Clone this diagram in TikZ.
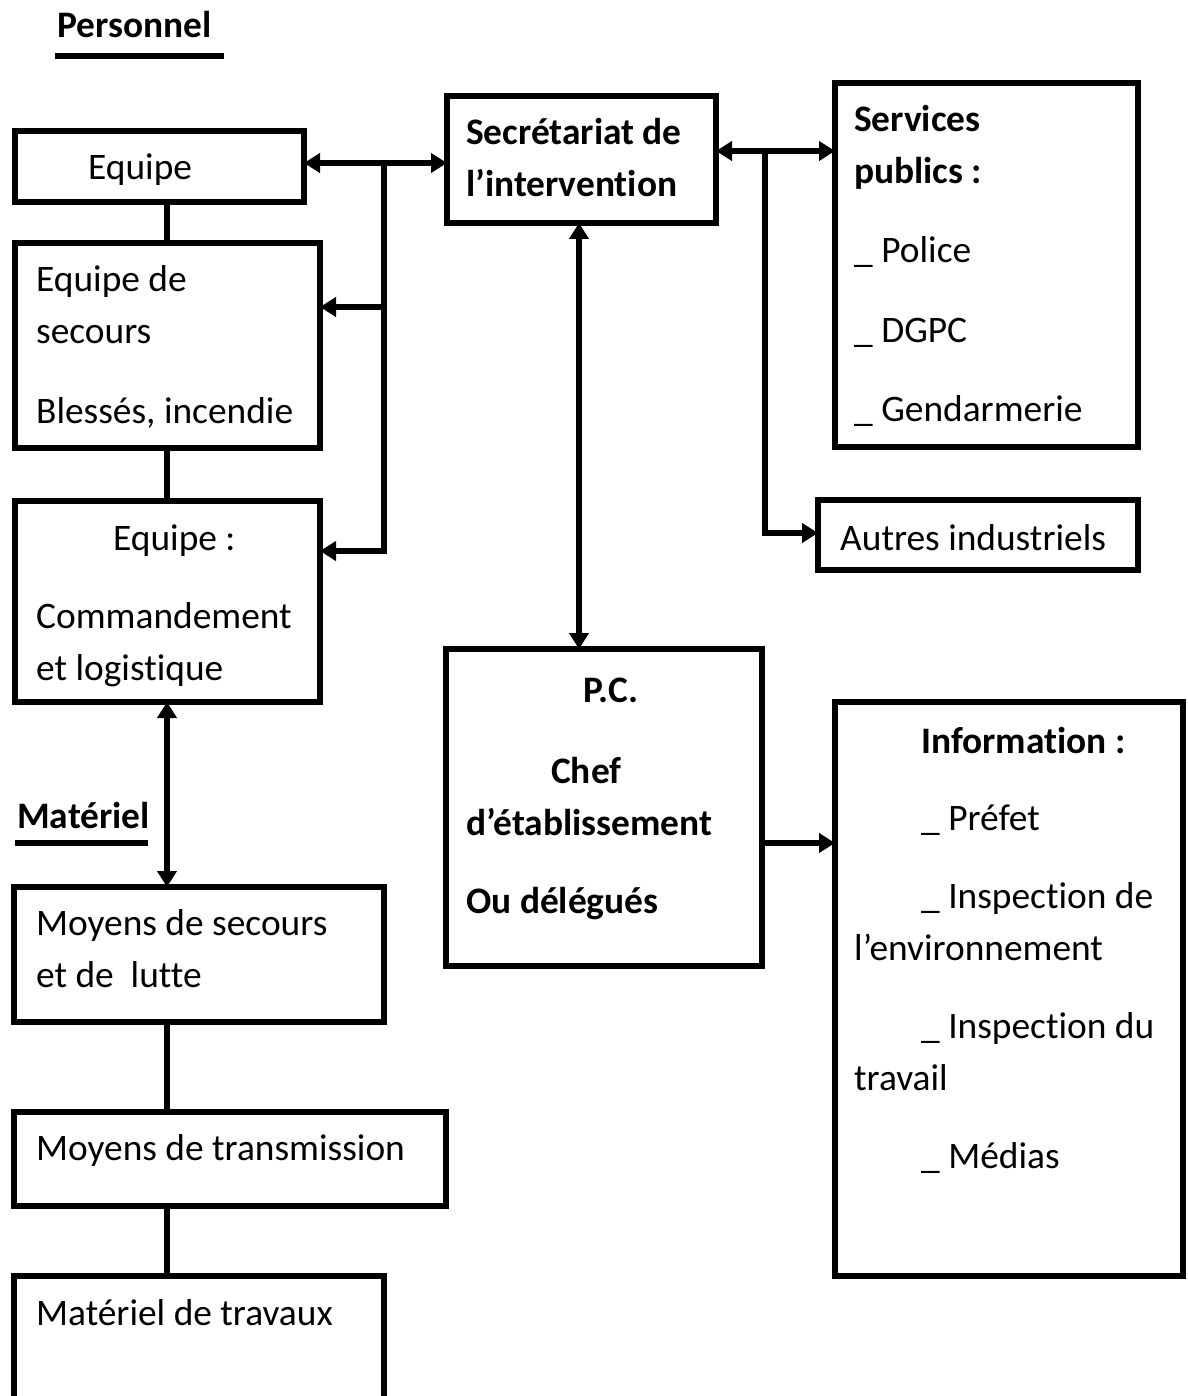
\documentclass[tikz,border=0pt]{standalone}
\usepackage{fontspec}
\setmainfont[Ligatures={NoCommon,NoContextual}]{Carlito}
\usetikzlibrary{arrows.meta}
\newcommand{\txtsize}{\fontsize{37.4}{44}\selectfont}
\begin{document}
\begin{tikzpicture}[x=1pt,y=-1pt,
  box/.style={draw, line width=5.5pt, rectangle, outer sep=0pt, inner sep=0pt, anchor=north west},
  lnk/.style={line width=5.5pt},
  arr/.style={line width=5.5pt, -{Triangle[length=16pt,width=19pt]}},
  darr/.style={line width=5.5pt, {Triangle[length=16pt,width=19pt]}-{Triangle[length=16pt,width=19pt]}},
  uline/.style={line width=6pt},
  txt/.style={anchor=base west, inner sep=0pt, font=\txtsize},
  btxt/.style={txt, font=\txtsize\bfseries}]
\useasboundingbox (0,0) rectangle (1187,1396);
\clip (0,0) rectangle (1187,1396);

% --- section headings
\node[btxt] (perso) at (57,38) {Personnel};
\draw[uline] (55,56) -- (224,56);
\node[btxt] (mater) at (17,828) {Matériel};
\draw[uline] (15,843) -- (148,843);

% --- left column: teams
\node[box, minimum width=289pt, minimum height=71pt] (equipe) at (15,131) {};
\node[txt] (t-equipe) at (88,180) {Equipe};

\node[box, minimum width=305pt, minimum height=205pt] (secours) at (15,243) {};
\node[txt] (t-sec1) at (36,292) {Equipe de};
\node[txt] (t-sec2) at (36,343) {secours};
\node[txt] (t-sec3) at (36,423) {Blessés, incendie};

\node[box, minimum width=305pt, minimum height=201pt] (cmd) at (15,501) {};
\node[txt] (t-cmd1) at (113,550) {Equipe :};
\node[txt] (t-cmd2) at (36,628) {Commandement};
\node[txt] (t-cmd3) at (36,680) {et logistique};

% --- left column: equipment
\node[box, minimum width=370pt, minimum height=135pt] (moysec) at (14,887) {};
\node[txt] (t-ms1) at (36,935) {Moyens de secours};
\node[txt] (t-ms2) at (36,987) {et de\ \ lutte};

\node[box, minimum width=432pt, minimum height=94pt] (moytr) at (14,1112) {};
\node[txt] (t-mt) at (36,1160) {Moyens de transmission};

\node[box, minimum width=370pt, minimum height=200pt] (travaux) at (14,1276) {};
\node[txt] (t-tr) at (36,1325) {Matériel de travaux};

% --- centre column
\node[box, minimum width=269pt, minimum height=127pt] (secr) at (447,96) {};
\node[btxt] (t-secr1) at (466,145) {Secrétariat de};
\node[btxt] (t-secr2) at (466,197) {l’intervention};

\node[box, minimum width=316pt, minimum height=317pt] (pc) at (446,649) {};
\node[btxt] (t-pc1) at (583,702) {P.C.};
\node[btxt] (t-pc2) at (551,783) {Chef};
\node[btxt] (t-pc3) at (466,835) {d’établissement};
\node[btxt] (t-pc4) at (466,913) {Ou délégués};

% --- right column
\node[box, minimum width=303pt, minimum height=364pt] (serv) at (835,83) {};
\node[btxt] (t-sv1) at (854,132) {Services};
\node[btxt] (t-sv2) at (854,184) {publics :};
\node[txt] (t-sv3) at (854,263) {\_ Police};
\node[txt] (t-sv4) at (854,342) {\_ DGPC};
\node[txt] (t-sv5) at (854,421) {\_ Gendarmerie};

\node[box, minimum width=320pt, minimum height=70pt] (autres) at (818,500) {};
\node[txt] (t-au) at (840,550) {Autres industriels};

\node[box, minimum width=348pt, minimum height=574pt] (info) at (835,702) {};
\node[btxt] (t-in1) at (921,753) {Information :};
\node[txt] (t-in2) at (921,830) {\_ Préfet};
\node[txt] (t-in3) at (921,908) {\_ Inspection de};
\node[txt] (t-in4) at (854,960) {l’environnement};
\node[txt] (t-in5) at (921,1038) {\_ Inspection du};
\node[txt] (t-in6) at (854,1090) {travail};
\node[txt] (t-in7) at (921,1168) {\_ Médias};

% --- junction points of the connectors
\coordinate (lx) at (167,0);
\coordinate (mx) at (579,0);
\coordinate (j1) at (384,163);
\coordinate (j2) at (384,307);
\coordinate (j3) at (384,551);
\coordinate (k1) at (765,151);
\coordinate (k2) at (765,533);
\coordinate (my) at (0,843);

% --- vertical links in the left column
\draw[lnk] (equipe.south -| lx) -- (secours.north -| lx);
\draw[lnk] (secours.south -| lx) -- (cmd.north -| lx);
\draw[darr] (cmd.south -| lx) -- (moysec.north -| lx);
\draw[lnk] (moysec.south -| lx) -- (moytr.north -| lx);
\draw[lnk] (moytr.south -| lx) -- (travaux.north -| lx);

% --- secretariat to the teams
\draw[darr] (equipe.east |- j1) -- (secr.west |- j1);
\draw[arr] (j1) -- (j3) -- (cmd.east |- j3);
\draw[arr] (j2) -- (secours.east |- j2);

% --- secretariat to the outside services
\draw[darr] (secr.east |- k1) -- (serv.west |- k1);
\draw[arr] (k1) -- (k2) -- (autres.west |- k2);

% --- secretariat, command post, information
\draw[darr] (secr.south -| mx) -- (pc.north -| mx);
\draw[arr] (pc.east |- my) -- (info.west |- my);
\end{tikzpicture}
\end{document}
